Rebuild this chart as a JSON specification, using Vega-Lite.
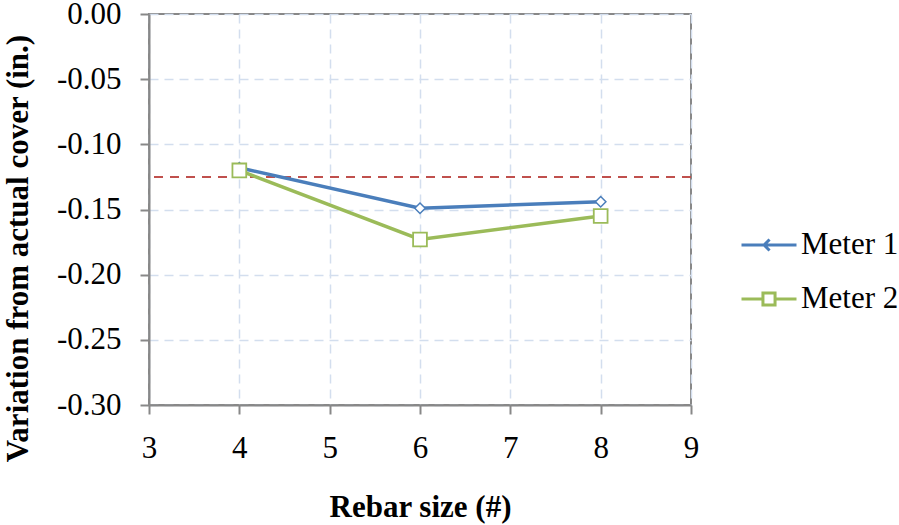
{
  "$schema": "https://vega.github.io/schema/vega-lite/v6.json",
  "width": 542,
  "height": 391,
  "autosize": {"type": "none"},
  "padding": {"left": 149, "top": 14, "right": 208, "bottom": 120},
  "background": "white",
  "config": {
    "font": "Liberation Serif",
    "view": {"stroke": "#888888", "strokeWidth": 2},
    "axis": {
      "labelFont": "Liberation Serif",
      "titleFont": "Liberation Serif",
      "labelFontSize": 31,
      "titleFontSize": 31,
      "labelColor": "black",
      "titleColor": "black",
      "domainColor": "#888888",
      "domainWidth": 2,
      "tickColor": "#888888",
      "tickWidth": 2,
      "tickSize": 9,
      "labelFlush": false,
      "labelOverlap": false,
      "gridColor": "#d3deee",
      "gridWidth": 1.5,
      "gridDash": [9, 6]
    }
  },
  "datasets": {
    "meters": [
      {"size": 4, "variation": -0.118, "series": "Meter 1"},
      {"size": 6, "variation": -0.149, "series": "Meter 1"},
      {"size": 8, "variation": -0.144, "series": "Meter 1"},
      {"size": 4, "variation": -0.120, "series": "Meter 2"},
      {"size": 6, "variation": -0.173, "series": "Meter 2"},
      {"size": 8, "variation": -0.155, "series": "Meter 2"}
    ],
    "ref": [{"variation": -0.125}]
  },
  "layer": [
    {
      "data": {"name": "ref"},
      "mark": {"type": "rule", "color": "#c0504d", "strokeWidth": 2, "strokeDash": [9, 7]},
      "encoding": {"y": {"field": "variation", "type": "quantitative"}}
    },
    {
      "data": {"name": "meters"},
      "mark": {"type": "point", "filled": false, "fill": "white", "strokeWidth": 3, "opacity": 0},
      "encoding": {
        "x": {"field": "size", "type": "quantitative"},
        "y": {"field": "variation", "type": "quantitative"},
        "stroke": {
          "field": "series",
          "type": "nominal",
          "scale": {"domain": ["Meter 1", "Meter 2"], "range": ["#4a7ebb", "#9bbb59"]},
          "legend": {
            "title": null,
            "orient": "none",
            "legendX": 591,
            "legendY": 202,
            "padding": 0,
            "labelFont": "Liberation Serif",
            "labelFontSize": 31,
            "labelColor": "black",
            "symbolSize": 3025,
            "symbolStrokeWidth": 3,
            "symbolFillColor": "white",
            "symbolOpacity": 1,
            "rowPadding": 10,
            "labelOffset": 3
          }
        },
        "shape": {
          "field": "series",
          "type": "nominal",
          "scale": {
            "domain": ["Meter 1", "Meter 2"],
            "range": [
              "M-1,0H1M0.02,-0.2L-0.18,0L0.02,0.2",
              "M-1,0H-0.22M0.22,0H1M-0.22,-0.22H0.22V0.22H-0.22Z"
            ]
          }
        }
      }
    },
    {
      "data": {"name": "meters"},
      "mark": {"type": "line", "strokeWidth": 3.5},
      "encoding": {
        "x": {
          "field": "size",
          "type": "quantitative",
          "scale": {"domain": [3, 9], "nice": false, "zero": false},
          "axis": {
            "values": [3, 4, 5, 6, 7, 8, 9],
            "format": "d",
            "title": "Rebar size (#)",
            "titleFontWeight": "bold",
            "labelPadding": 19,
            "titleX": 271,
            "titleY": 102,
            "titleBaseline": "middle",
            "titleAnchor": "middle"
          }
        },
        "y": {
          "field": "variation",
          "type": "quantitative",
          "scale": {"domain": [-0.30, 0], "nice": false, "zero": false},
          "axis": {
            "values": [0, -0.05, -0.10, -0.15, -0.20, -0.25, -0.30],
            "labelExpr": "replace(format(datum.value, '.2f'), '\u2212', '-')",
            "title": "Variation from actual cover (in.)",
            "titleFontWeight": "bold",
            "labelPadding": 19,
            "titleAngle": -90,
            "titleX": -131,
            "titleY": 234,
            "titleAlign": "center",
            "titleBaseline": "middle"
          }
        },
        "color": {
          "field": "series",
          "type": "nominal",
          "scale": {"domain": ["Meter 1", "Meter 2"], "range": ["#4a7ebb", "#9bbb59"]},
          "legend": null
        }
      }
    },
    {
      "data": {"name": "meters"},
      "transform": [{"filter": {"field": "series", "equal": "Meter 1"}}],
      "mark": {"type": "point", "shape": "diamond", "filled": false, "fill": "white", "fillOpacity": 1, "size": 110, "strokeWidth": 1.5},
      "encoding": {
        "x": {"field": "size", "type": "quantitative"},
        "y": {"field": "variation", "type": "quantitative"},
        "color": {"field": "series", "type": "nominal", "legend": null}
      }
    },
    {
      "data": {"name": "meters"},
      "transform": [{"filter": {"field": "series", "equal": "Meter 2"}}],
      "mark": {"type": "point", "shape": "square", "filled": false, "fill": "white", "fillOpacity": 1, "size": 190, "strokeWidth": 1.8},
      "encoding": {
        "x": {"field": "size", "type": "quantitative"},
        "y": {"field": "variation", "type": "quantitative"},
        "color": {"field": "series", "type": "nominal", "legend": null}
      }
    }
  ]
}
